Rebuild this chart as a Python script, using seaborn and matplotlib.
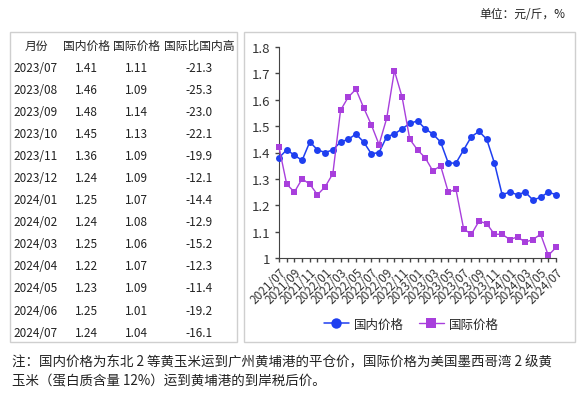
import numpy as np
import matplotlib
matplotlib.use("Agg")
import matplotlib.pyplot as plt
import matplotlib.patches as patches
import seaborn as sns

months = ["2021/07", "2021/08", "2021/09", "2021/10", "2021/11", "2021/12",
          "2022/01", "2022/02", "2022/03", "2022/04", "2022/05", "2022/06",
          "2022/07", "2022/08", "2022/09", "2022/10", "2022/11", "2022/12",
          "2023/01", "2023/02", "2023/03", "2023/04", "2023/05", "2023/06",
          "2023/07", "2023/08", "2023/09", "2023/10", "2023/11", "2023/12",
          "2024/01", "2024/02", "2024/03", "2024/04", "2024/05", "2024/06",
          "2024/07"]
domestic = [1.38, 1.41, 1.39, 1.37, 1.44, 1.41,
            1.40, 1.41, 1.44, 1.45, 1.47, 1.44,
            1.395, 1.40, 1.46, 1.47, 1.49, 1.51,
            1.52, 1.49, 1.47, 1.44, 1.36, 1.36,
            1.41, 1.46, 1.48, 1.45, 1.36, 1.24,
            1.25, 1.24, 1.25, 1.22, 1.23, 1.25,
            1.24]
international = [1.42, 1.28, 1.25, 1.30, 1.28, 1.24,
                 1.27, 1.32, 1.56, 1.61, 1.64, 1.57,
                 1.505, 1.43, 1.53, 1.71, 1.61, 1.45,
                 1.41, 1.38, 1.33, 1.35, 1.25, 1.26,
                 1.11, 1.09, 1.14, 1.13, 1.09, 1.09,
                 1.07, 1.08, 1.06, 1.07, 1.09, 1.01,
                 1.04]

table_header = ["月份", "国内价格", "国际价格", "国际比国内高"]
table_months = months[-13:]
table_dom = ["1.41", "1.46", "1.48", "1.45", "1.36", "1.24", "1.25",
             "1.24", "1.25", "1.22", "1.23", "1.25", "1.24"]
table_intl = ["1.11", "1.09", "1.14", "1.13", "1.09", "1.09", "1.07",
              "1.08", "1.06", "1.07", "1.09", "1.01", "1.04"]
table_diff = ["-21.3", "-25.3", "-23.0", "-22.1", "-19.9", "-12.1", "-14.4",
              "-12.9", "-15.2", "-12.3", "-11.4", "-19.2", "-16.1"]

note = ("注：国内价格为东北 2 等黄玉米运到广州黄埔港的平仓价，国际价格为美国墨西哥湾 2 级黄\n"
        "玉米（蛋白质含量 12%）运到黄埔港的到岸税后价。")

sns.set_style("ticks")
plt.rcParams["font.family"] = ["Noto Sans CJK SC", "DejaVu Sans"]

W, H = 580, 402
fig = plt.figure(figsize=(W / 100, H / 100), dpi=100)

def fx(px):
    return px / W

def fy(py):
    return 1 - py / H

# two framed panels
for x0, x1 in [(10, 237), (244, 575)]:
    fig.patches.append(patches.Rectangle((fx(x0), fy(343)), fx(x1 - x0), (343 - 33) / H,
                                         transform=fig.transFigure, fill=False,
                                         edgecolor="#cfcfcf", lw=1))

fig.text(fx(565), fy(14), "单位：元/斤，%", ha="right", va="center", fontsize=8.5, color="#222222")

# table
col_x = [36, 86, 136, 199]
for cx, h in zip(col_x, table_header):
    fig.text(fx(cx), fy(46), h, ha="center", va="center", fontsize=8.5, color="#222222")
for i in range(len(table_months)):
    y = fy(68 + i * 22.1)
    fig.text(fx(13), y, table_months[i], ha="left", va="center", fontsize=8.5, color="#222222")
    fig.text(fx(86), y, table_dom[i], ha="center", va="center", fontsize=8.5, color="#222222")
    fig.text(fx(136), y, table_intl[i], ha="center", va="center", fontsize=8.5, color="#222222")
    fig.text(fx(199), y, table_diff[i], ha="center", va="center", fontsize=8.5, color="#222222")

# chart
ax = fig.add_axes([fx(279), fy(259), fx(556 - 279), (259 - 48) / H])
x = np.arange(len(months))
sns.lineplot(x=x, y=domestic, ax=ax, color="#1f3ff0", marker="o", markersize=5,
             markeredgewidth=0, lw=1.1, label="国内价格", clip_on=False, zorder=3)
sns.lineplot(x=x, y=international, ax=ax, color="#a83fdc", marker="s", markersize=5,
             markeredgewidth=0, lw=1.0, label="国际价格", clip_on=False, zorder=3)

ax.set_xlim(0, len(months) - 1)
ax.set_ylim(1, 1.8)
ax.set_yticks(np.arange(1.0, 1.81, 0.1))
ax.set_yticklabels(["1", "1.1", "1.2", "1.3", "1.4", "1.5", "1.6", "1.7", "1.8"])
ax.set_xticks(x)
ax.set_xticklabels([m if i % 2 == 0 else "" for i, m in enumerate(months)],
                   rotation=45, ha="right", rotation_mode="anchor")
ax.tick_params(axis="both", colors="#444444", labelcolor="#333333", length=3, width=1)
ax.tick_params(axis="y", labelsize=9.5)
ax.tick_params(axis="x", labelsize=8.5, pad=2)
for s in ["left", "bottom"]:
    ax.spines[s].set_color("#444444")
ax.spines["top"].set_visible(False)
ax.spines["right"].set_visible(False)

leg = ax.legend(loc="center", bbox_to_anchor=(fx(411), fy(325)), bbox_transform=fig.transFigure,
                ncol=2, frameon=False, fontsize=9, handlelength=2.0, columnspacing=1.2,
                handletextpad=0.4, markerscale=1.5)

fig.text(fx(12), fy(372), note, ha="left", va="center", fontsize=9.7, color="#222222",
         linespacing=1.5)

fig.savefig("out.png", dpi=100)
